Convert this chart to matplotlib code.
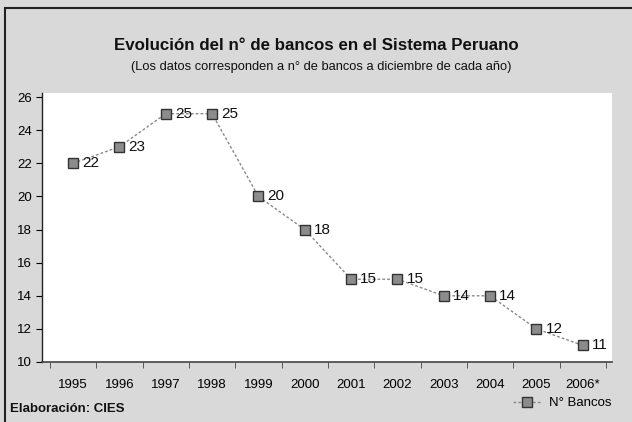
import numpy as np
import matplotlib.pyplot as plt
from matplotlib.patches import Rectangle

# data
years = ['1995', '1996', '1997', '1998', '1999', '2000',
         '2001', '2002', '2003', '2004', '2005', '2006*']
bancos = [22, 23, 25, 25, 20, 18, 15, 15, 14, 14, 12, 11]

plt.rcParams['font.family'] = ['Liberation Sans', 'DejaVu Sans']

fig = plt.figure(figsize=(6.32, 4.22), dpi=100)
fig.patch.set_facecolor('#d9d9d9')

# outer frame of the scanned figure
fig.patches.append(Rectangle((5/632, -0.05), 1.2, 1 - 8/422 + 0.05,
                             transform=fig.transFigure, fill=False,
                             edgecolor='#222222', linewidth=1.5))

ax = fig.add_axes([42/632, 1 - 362/422, 570/632, 269/422])
ax.set_facecolor('white')

x = np.arange(len(years))
ax.plot(x, bancos, linestyle=(0, (2, 1.5)), color='#8a8a8a', linewidth=1.0,
        marker='s', markersize=6.5, markerfacecolor='#8c8c8c',
        markeredgecolor='#333333', markeredgewidth=1.0, label='N° Bancos')

for xi, v in zip(x, bancos):
    ax.annotate(str(v), (xi, v), xytext=(6.5, 0), textcoords='offset points',
                va='center', ha='left', fontsize=11, color='#111111')

ax.set_xlim(-0.67, 11.63)
ax.set_ylim(10, 26.25)
ax.set_yticks(np.arange(10, 27, 2))
ax.set_xticks(x)
ax.set_xticklabels(years)
ax.set_xticks(np.arange(-0.5, 12, 1), minor=True)
ax.tick_params(axis='x', which='major', length=0, pad=12, labelsize=9.5)
ax.tick_params(axis='x', which='minor', length=4, direction='out', color='#444444')
ax.tick_params(axis='y', length=4, labelsize=9.5, pad=3)

for s in ['top', 'right']:
    ax.spines[s].set_visible(False)
ax.spines['left'].set_color('#222222')
ax.spines['bottom'].set_color('#444444')
ax.spines['left'].set_linewidth(1.0)
ax.spines['bottom'].set_linewidth(1.2)

fig.text(0.50, 1 - 46/422, 'Evolución del n° de bancos en el Sistema Peruano',
         ha='center', va='center', fontsize=12.2, fontweight='bold', color='#111111')
fig.text(0.508, 1 - 67/422, '(Los datos corresponden a n° de bancos a diciembre de cada año)',
         ha='center', va='center', fontsize=9.3, color='#111111')
fig.text(10/632, 1 - 409/422, 'Elaboración: CIES', ha='left', va='center',
         fontsize=9.5, fontweight='bold', color='#111111')

fig.legend(loc='center', bbox_to_anchor=(562/632, 1 - 403/422), frameon=False,
           fontsize=9.5, handlelength=2.2, handletextpad=0.5)

fig.savefig('out.png', dpi=100, facecolor=fig.get_facecolor())
